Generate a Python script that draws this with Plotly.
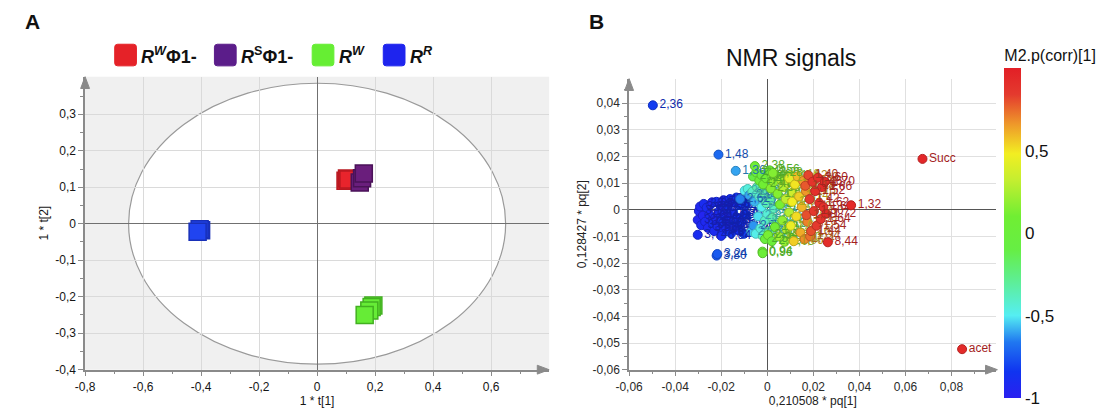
import plotly.graph_objects as go

W, H = 1106, 417

# ---------------- Panel A data (scores t[1], t[2]) ----------------
a_groups = ["RWPhi1", "RSPhi1", "RW", "RR"]
a_red_x = [0.098, 0.103, 0.108]
a_red_y = [0.118, 0.124, 0.121]
a_purple_x = [0.147, 0.155, 0.161]
a_purple_y = [0.113, 0.125, 0.138]
a_green_x = [0.194, 0.188, 0.180, 0.164]
a_green_y = [-0.224, -0.228, -0.238, -0.250]
a_blue_x = [-0.400, -0.405, -0.412]
a_blue_y = [-0.018, -0.015, -0.022]

a_xticks = [-0.8, -0.6, -0.4, -0.2, 0, 0.2, 0.4, 0.6]
a_xticktext = ["-0,8", "-0,6", "-0,4", "-0,2", "0", "0,2", "0,4", "0,6"]
a_xminor = [-0.7, -0.5, -0.3, -0.1, 0.1, 0.3, 0.5, 0.7]
a_yticks = [-0.4, -0.3, -0.2, -0.1, 0, 0.1, 0.2, 0.3]
a_yticktext = ["-0,4", "-0,3", "-0,2", "-0,1", "0", "0,1", "0,2", "0,3"]
a_yminor = [-0.35, -0.25, -0.15, -0.05, 0.05, 0.15, 0.25, 0.35]

# ---------------- Panel B data (loadings pq[1], pq[2], p(corr)[1]) ----------------
blue_x = [-0.0302, -0.0297, -0.0292, -0.0287, -0.0280, -0.0276, -0.0270, -0.0263, -0.0258, -0.0252,
          -0.0246, -0.0240, -0.0236, -0.0231, -0.0226, -0.0221, -0.0216, -0.0211, -0.0205, -0.0200,
          -0.0196, -0.0190, -0.0185, -0.0179, -0.0174, -0.0168, -0.0162, -0.0157, -0.0151, -0.0146,
          -0.0140, -0.0134, -0.0129, -0.0123, -0.0118, -0.0112, -0.0106, -0.0101, -0.0096, -0.0090]
blue_y = [-0.0038, -0.0005, 0.0012, -0.0058, -0.0022, 0.0022, -0.0045, 0.0008, -0.0068, -0.0018,
          0.0020, 0.0028, -0.0050, -0.0080, -0.0030, 0.0030, -0.0062, -0.0008, 0.0018, -0.0045,
          -0.0085, 0.0036, -0.0020, -0.0068, 0.0012, -0.0040, 0.0040, -0.0088, -0.0012, 0.0026,
          -0.0058, 0.0046, -0.0030, -0.0078, 0.0018, -0.0048, 0.0038, -0.0090, -0.0015, 0.0022]
blue_c = [-0.95, -0.93, -0.94, -0.92, -0.96, -0.90, -0.93, -0.91, -0.94, -0.92,
          -0.90, -0.95, -0.88, -0.91, -0.93, -0.89, -0.92, -0.90, -0.94, -0.87,
          -0.90, -0.92, -0.88, -0.91, -0.86, -0.90, -0.88, -0.85, -0.89, -0.87,
          -0.90, -0.84, -0.86, -0.88, -0.83, -0.85, -0.82, -0.80, -0.84, -0.81]
blue_lbl = ["3,72", "3,70", "3,68", "3,66", "3,64", "3,62", "3,60", "3,58", "3,56", "3,54",
            "3,52", "1,56", "3,48", "3,46", "3,44", "3,42", "3,40", "4,08", "4,06", "4,04",
            "4,02", "4,00", "3,98", "3,96", "3,94", "3,92", "3,90", "3,88", "3,86", "3,82",
            "3,78", "3,76", "4,62", "4,64", "5,22", "5,24", "5,26", "5,28", "4,12", "4,14"]

cyan_x = [-0.0118, -0.0098, -0.0085, -0.0078, -0.0070, -0.0065, -0.0060, -0.0055, -0.0050, -0.0045,
          -0.0040, -0.0035, -0.0030, -0.0025, -0.0020, -0.0015, -0.0010, -0.0005, 0.0000, 0.0008,
          0.0015, 0.0022, 0.0030, 0.0038]
cyan_y = [0.0040, 0.0072, 0.0078, 0.0055, -0.0082, 0.0068, -0.0060, 0.0030, -0.0090, 0.0085,
          -0.0025, 0.0050, -0.0070, 0.0010, -0.0098, 0.0065, -0.0040, 0.0025, -0.0015, -0.0080,
          0.0040, -0.0030, 0.0005, -0.0055]
cyan_c = [-0.65, -0.50, -0.45, -0.60, -0.55, -0.40, -0.62, -0.58, -0.48, -0.35,
          -0.52, -0.42, -0.45, -0.50, -0.38, -0.33, -0.40, -0.36, -0.44, -0.30,
          -0.32, -0.35, -0.38, -0.30]
cyan_lbl = ["2,62", "2,64", "2,66", "2,68", "2,70", "2,72", "2,74", "2,76", "2,78", "2,80",
            "2,82", "2,84", "2,86", "2,88", "2,90", "2,92", "2,94", "2,96", "2,98", "3,00",
            "3,04", "3,08", "3,10", "3,12"]

green_x = [-0.0062, -0.0048, -0.0035, -0.0025, -0.0018, -0.0010, -0.0005, 0.0003, 0.0010, 0.0015,
           0.0020, 0.0028, 0.0033, 0.0040, 0.0045, 0.0050, 0.0055, 0.0060, 0.0065, 0.0070,
           0.0075, 0.0080, 0.0085, 0.0090, 0.0095, 0.0100, 0.0105, 0.0110]
green_y = [0.0125, 0.0140, 0.0110, 0.0130, 0.0095, -0.0110, 0.0118, -0.0095, 0.0148, 0.0080,
           -0.0118, 0.0105, -0.0065, 0.0128, 0.0060, -0.0100, 0.0020, 0.0112, -0.0040, 0.0085,
           -0.0120, 0.0040, -0.0075, 0.0100, -0.0010, 0.0130, -0.0105, 0.0065]
green_c = [-0.10, 0.00, 0.05, -0.05, 0.10, 0.00, 0.08, 0.12, 0.05, 0.15,
           0.02, 0.18, 0.10, 0.20, 0.15, 0.22, 0.12, 0.25, 0.18, 0.28,
           0.20, 0.30, 0.25, 0.33, 0.28, 0.35, 0.30, 0.35]
green_lbl = ["2,40", "2,42", "2,44", "2,46", "2,48", "2,50", "2,52", "2,54", "2,56", "2,58",
             "2,60", "1,90", "1,92", "1,94", "1,96", "1,98", "2,00", "2,02", "2,04", "2,06",
             "2,08", "2,10", "2,12", "2,14", "2,16", "2,18", "2,20", "2,22"]

yel_x = [0.0095, 0.0102, 0.0108, 0.0115, 0.0120, 0.0126, 0.0132, 0.0138, 0.0144, 0.0150,
         0.0156, 0.0162, 0.0168, 0.0174, 0.0180, 0.0186]
yel_y = [0.0118, -0.0060, 0.0030, -0.0118, 0.0095, -0.0025, 0.0125, 0.0050, -0.0085, 0.0010,
         0.0108, -0.0110, 0.0070, -0.0045, 0.0120, -0.0100]
yel_c = [0.42, 0.45, 0.48, 0.55, 0.50, 0.52, 0.58, 0.55, 0.62, 0.60,
         0.65, 0.68, 0.66, 0.70, 0.72, 0.74]
yel_lbl = ["1,00", "1,02", "1,04", "1,06", "1,08", "1,10", "1,12", "1,14", "1,16", "1,20",
           "1,22", "1,24", "1,26", "1,28", "1,30", "1,34"]

red_x = [0.0165, 0.0170, 0.0178, 0.0184, 0.0190, 0.0196, 0.0202, 0.0208, 0.0214, 0.0220,
         0.0226, 0.0232, 0.0238, 0.0244, 0.0250, 0.0256]
red_y = [0.0090, -0.0020, 0.0130, 0.0040, -0.0080, 0.0105, -0.0005, 0.0070, -0.0060, 0.0120,
         0.0025, -0.0035, 0.0085, 0.0010, 0.0105, -0.0015]
red_c = [0.78, 0.80, 0.82, 0.85, 0.80, 0.88, 0.86, 0.90, 0.84, 0.90,
         0.92, 0.88, 0.93, 0.90, 0.92, 0.94]
red_lbl = ["1,18", "1,38", "1,40", "1,42", "1,44", "1,46", "1,50", "1,52", "1,54", "1,60",
           "1,62", "1,64", "1,66", "1,68", "1,70", "1,72"]

out_x = [-0.0497, -0.0212, -0.0137, -0.0302, -0.0200, -0.0220, -0.0217, -0.0021, -0.0020,
         -0.0054, 0.0024, 0.0364, 0.0263, 0.0674, 0.0846]
out_y = [0.0392, 0.0207, 0.0146, -0.0094, -0.0098, -0.0172, -0.0166, -0.0157, -0.0163,
         0.0164, 0.0138, 0.0017, -0.0122, 0.0191, -0.0523]
out_c = [-0.82, -0.70, -0.60, -0.90, -0.90, -0.75, -0.74, 0.08, 0.05,
         0.10, 0.15, 0.94, 0.92, 0.95, 0.93]
out_lbl = ["2,36", "1,48", "1,36", "3,74", "6,84", "3,80", "3,24", "0,94", "0,96",
           "2,38", "3,28", "1,32", "8,44", "Succ", "acet"]

b_xticks = [-0.06, -0.04, -0.02, 0, 0.02, 0.04, 0.06, 0.08]
b_xticktext = ["-0,06", "-0,04", "-0,02", "0", "0,02", "0,04", "0,06", "0,08"]
b_xminor = [-0.05, -0.03, -0.01, 0.01, 0.03, 0.05, 0.07, 0.09]
b_yticks = [-0.06, -0.05, -0.04, -0.03, -0.02, -0.01, 0, 0.01, 0.02, 0.03, 0.04]
b_yticktext = ["-0,06", "-0,05", "-0,04", "-0,03", "-0,02", "-0,01", "0", "0,01", "0,02", "0,03", "0,04"]
b_yminor = [-0.055, -0.045, -0.035, -0.025, -0.015, -0.005, 0.005, 0.015, 0.025, 0.035, 0.045]

cbar_vals = [-1, -0.5, 0, 0.5]
cbar_text = ["-1", "-0,5", "0", "0,5"]

# ---------------- styling helpers ----------------
CMIN, CMAX = -1.0, 1.0
CSCALE = [[0.00, "#2a20f0"], [0.08, "#1034f0"], [0.17, "#2078f0"], [0.25, "#55eef2"],
          [0.36, "#5eee90"], [0.45, "#66ee44"], [0.55, "#70ee33"], [0.66, "#c4ee30"],
          [0.74, "#f2ee22"], [0.83, "#ee982a"], [0.92, "#e43a2e"], [1.00, "#e21f26"]]


def _rgb(h):
    h = h.lstrip("#")
    return tuple(int(h[i:i + 2], 16) for i in (0, 2, 4))


def color_of(v, dark=1.0):
    t = (v - CMIN) / (CMAX - CMIN)
    t = min(max(t, 0.0), 1.0)
    for (p0, c0), (p1, c1) in zip(CSCALE[:-1], CSCALE[1:]):
        if p0 <= t <= p1:
            f = 0 if p1 == p0 else (t - p0) / (p1 - p0)
            a, b = _rgb(c0), _rgb(c1)
            r = [int((a[i] + (b[i] - a[i]) * f) * dark) for i in range(3)]
            return "rgb(%d,%d,%d)" % tuple(r)
    return "rgb(0,0,0)"


def px(xp, yp):
    """pixel position -> paper coordinates string"""
    return "%.5f,%.5f" % (xp / W, 1 - yp / H)


def round_rect(x0, y0, x1, y1, r):
    return ("M " + px(x0 + r, y0) + " L " + px(x1 - r, y0) + " Q " + px(x1, y0) + " " + px(x1, y0 + r) +
            " L " + px(x1, y1 - r) + " Q " + px(x1, y1) + " " + px(x1 - r, y1) +
            " L " + px(x0 + r, y1) + " Q " + px(x0, y1) + " " + px(x0, y1 - r) +
            " L " + px(x0, y0 + r) + " Q " + px(x0, y0) + " " + px(x0 + r, y0) + " Z")


FONT = "Liberation Sans, Arial, sans-serif"
fig = go.Figure()

# ---------------- Panel A traces ----------------
a_styles = [
    (a_red_x, a_red_y, "#e8242c", "#b81820"),
    (a_purple_x, a_purple_y, "#6a1e7c", "#4a1258"),
    (a_green_x, a_green_y, "#66ec36", "#42b020"),
    (a_blue_x, a_blue_y, "#2044f0", "#1830b8"),
]
for (xs, ys, fc, lc), name in zip(a_styles, a_groups):
    fig.add_trace(go.Scatter(x=xs, y=ys, mode="markers", name=name,
                             marker=dict(symbol="square", size=17, color=fc,
                                         line=dict(color=lc, width=1.5)),
                             xaxis="x", yaxis="y", hoverinfo="skip", showlegend=False))

# ---------------- Panel B traces ----------------
groups_b = [(blue_x, blue_y, blue_c, blue_lbl), (cyan_x, cyan_y, cyan_c, cyan_lbl),
            (green_x, green_y, green_c, green_lbl), (yel_x, yel_y, yel_c, yel_lbl),
            (red_x, red_y, red_c, red_lbl), (out_x, out_y, out_c, out_lbl)]
for xs, ys, cs, lbl in groups_b:
    fig.add_trace(go.Scatter(
        x=xs, y=ys, mode="markers+text", text=lbl, textposition="middle right",
        textfont=dict(family=FONT, size=12, color=[color_of(v, 0.72) for v in cs]),
        marker=dict(color=cs, coloraxis="coloraxis", size=9,
                    line=dict(color=[color_of(v, 0.8) for v in cs], width=1)),
        xaxis="x2", yaxis="y2", hoverinfo="skip", showlegend=False))

# ---------------- layout ----------------
axis_common = dict(showgrid=True, gridcolor="#dadada", gridwidth=1,
                   zeroline=True, zerolinecolor="#707070", zerolinewidth=1,
                   showline=True, linecolor="#8a8a8a", linewidth=1.5,
                   ticks="outside", ticklen=5, tickcolor="#8a8a8a", tickwidth=1,
                   tickfont=dict(family=FONT, size=12, color="#2a2a2a"),
                   tickmode="array", fixedrange=True)
a_tickfont = dict(family=FONT, size=12, color="#151515")

fig.update_layout(
    width=W, height=H, margin=dict(l=0, r=0, t=0, b=0),
    paper_bgcolor="white", plot_bgcolor="white", showlegend=False,
    font=dict(family=FONT, color="#222"),
    xaxis=dict(axis_common, domain=[72 / W, 542 / W], range=[-0.8, 0.8], anchor="y",
               tickvals=a_xticks, ticktext=a_xticktext, tickfont=a_tickfont,
               minor=dict(tickmode="array", tickvals=a_xminor, ticklen=3, tickcolor="#8a8a8a", showgrid=False),
               title=dict(text="1 * t[1]", font=dict(family=FONT, size=12, color="#151515"), standoff=3)),
    yaxis=dict(axis_common, domain=[1 - 376 / H, 1 - 78 / H], range=[-0.4, 0.403], anchor="x",
               tickvals=a_yticks, ticktext=a_yticktext, tickfont=a_tickfont,
               minor=dict(tickmode="array", tickvals=a_yminor, ticklen=3, tickcolor="#8a8a8a", showgrid=False),
               title=dict(text="1 * t[2]", font=dict(family=FONT, size=12, color="#151515"), standoff=4)),
    xaxis2=dict(axis_common, domain=[623 / W, 995 / W], range=[-0.06, 0.0995], anchor="y2",
                tickvals=b_xticks, ticktext=b_xticktext, gridcolor="#e0e0e0", zerolinecolor="#555",
                minor=dict(tickmode="array", tickvals=b_xminor, ticklen=3, tickcolor="#8a8a8a", showgrid=False),
                title=dict(text="0,210508 * pq[1]", font=dict(family=FONT, size=12, color="#222"), standoff=3)),
    yaxis2=dict(axis_common, domain=[1 - 376 / H, 1 - 80 / H], range=[-0.06, 0.0492], anchor="x2",
                tickvals=b_yticks, ticktext=b_yticktext, gridcolor="#e0e0e0", zerolinecolor="#555",
                minor=dict(tickmode="array", tickvals=b_yminor, ticklen=3, tickcolor="#8a8a8a", showgrid=False),
                title=dict(text="0,128427 * pq[2]", font=dict(family=FONT, size=12, color="#222"), standoff=3)),
    coloraxis=dict(colorscale=CSCALE, cmin=CMIN, cmax=CMAX,
                   colorbar=dict(x=1003 / W, xanchor="left", xpad=0, thickness=17,
                                 lenmode="pixels", len=352, y=1 - 405 / H, yanchor="bottom", ypad=0,
                                 outlinewidth=0, ticks="", tickmode="array",
                                 tickvals=cbar_vals, ticktext=cbar_text,
                                 tickfont=dict(family=FONT, size=17, color="#111"),
                                 title=dict(text="M2.p(corr)[1]", side="top",
                                            font=dict(family=FONT, size=16, color="#111")))),
)

# background of panel A: grey outside the Hotelling ellipse
fig.add_shape(type="rect", xref="x domain", yref="y domain", x0=0, x1=1, y0=0, y1=1,
              fillcolor="#f0f0f0", line=dict(width=0), layer="below")
fig.add_shape(type="circle", xref="x", yref="y", x0=-0.65, x1=0.65, y0=-0.385, y1=0.385,
              fillcolor="white", line=dict(color="#9a9a9a", width=1.2), layer="below")

# axis arrow heads (pixel positions of the axis ends)
for tx, ty, d in [(542, 376, "r"), (72, 78, "u"), (996, 376, "r"), (623, 80, "u")]:
    if d == "r":
        path = "M " + px(tx, ty) + " L " + px(tx - 12, ty - 4.5) + " L " + px(tx - 12, ty + 4.5) + " Z"
    else:
        path = "M " + px(tx, ty) + " L " + px(tx - 4.5, ty + 12) + " L " + px(tx + 4.5, ty + 12) + " Z"
    fig.add_shape(type="path", xref="paper", yref="paper", path=path,
                  fillcolor="#8a8a8a", line=dict(color="#8a8a8a", width=1))

# panel letters and title
fig.add_annotation(xref="paper", yref="paper", x=19 / W, y=1 - 22 / H, text="<b>A</b>",
                   xanchor="center", yanchor="middle",
                   showarrow=False, font=dict(family=FONT, size=21, color="#111"))
fig.add_annotation(xref="paper", yref="paper", x=590 / W, y=1 - 22 / H, text="<b>B</b>",
                   xanchor="center", yanchor="middle",
                   showarrow=False, font=dict(family=FONT, size=21, color="#111"))
fig.add_annotation(xref="paper", yref="paper", x=787 / W, y=1 - 59 / H, text="NMR signals",
                   xanchor="center", yanchor="middle",
                   showarrow=False, font=dict(family=FONT, size=23, color="#111"))

# legend of panel A
legend_items = [
    (102, "#e52228", "<b><i>R</i><sup><i>W</i></sup>Φ1-</b>"),
    (203, "#5b1d8a", "<b><i>R</i><sup>S</sup>Φ1-</b>"),
    (302, "#66ee33", "<b><i>R</i><sup><i>W</i></sup></b>"),
    (374, "#1e24ee", "<b><i>R</i><sup><i>R</i></sup></b>"),
]
for x0, col, txt in legend_items:
    fig.add_shape(type="path", xref="paper", yref="paper", path=round_rect(x0, 45, x0 + 22, 67, 3),
                  fillcolor=col, line=dict(color=col, width=1))
    fig.add_annotation(xref="paper", yref="paper", x=(x0 + 25) / W, y=1 - 56 / H, text=txt,
                       xanchor="left", yanchor="middle", showarrow=False,
                       font=dict(family=FONT, size=18, color="#111"))

fig.write_html("out.html")
